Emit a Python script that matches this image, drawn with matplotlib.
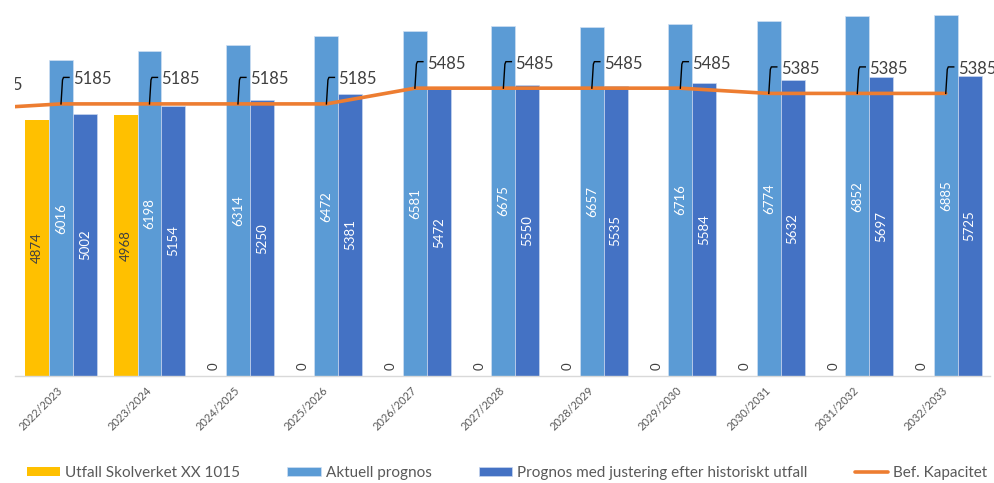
import matplotlib
matplotlib.use("Agg")
import matplotlib.pyplot as plt
import matplotlib.transforms as mtransforms
import numpy as np

plt.rcParams['font.family'] = ['Lato', 'DejaVu Sans']

# ---- data ----
categories = ["2022/2023", "2023/2024", "2024/2025", "2025/2026", "2026/2027",
              "2027/2028", "2028/2029", "2029/2030", "2030/2031", "2031/2032", "2032/2033"]
utfall = [4874, 4968, 0, 0, 0, 0, 0, 0, 0, 0, 0]
aktuell = [6016, 6198, 6314, 6472, 6581, 6675, 6657, 6716, 6774, 6852, 6885]
justerad = [5002, 5154, 5250, 5381, 5472, 5550, 5535, 5584, 5632, 5697, 5725]
kapacitet = [5185, 5185, 5185, 5185, 5485, 5485, 5485, 5485, 5385, 5385, 5385]
# previous year's capacity point (mostly cropped at the left edge of the chart)
kapacitet_prev = 5085

labels = ["Utfall Skolverket XX 1015", "Aktuell prognos",
          "Prognos med justering efter historiskt utfall", "Bef. Kapacitet"]

c_yellow = "#FFC000"
c_light = "#5B9BD5"
c_dark = "#4472C4"
c_orange = "#ED7D31"
c_text = "#404040"
c_gray = "#595959"

W, H = 995, 483
fig = plt.figure(figsize=(W / 100, H / 100), dpi=100)
ax = fig.add_axes([15 / W, (H - 376) / H, 975 / W, 376 / H])

x = np.arange(len(categories))
bw = 0.27
off = 0.27

b1 = ax.bar(x - off, utfall, bw, color=c_yellow, label=labels[0], zorder=2)
b2 = ax.bar(x, aktuell, bw, color=c_light, label=labels[1], zorder=2,
            edgecolor="#cfe0f3", linewidth=0.5)
b3 = ax.bar(x + off, justerad, bw, color=c_dark, label=labels[2], zorder=2,
            edgecolor="#c7d5ee", linewidth=0.5)

lx = np.concatenate([[-1], x])
ly = [kapacitet_prev] + kapacitet
ln, = ax.plot(lx, ly, color=c_orange, lw=2.6, label=labels[3], zorder=3,
              solid_capstyle='round')

ax.set_xlim(-0.52, 10.5)
ax.set_ylim(0, 7165)

# in-bar labels
for bars, vals, col in [(b1, utfall, c_text), (b2, aktuell, "white"), (b3, justerad, "white")]:
    for r, v in zip(bars, vals):
        cx = r.get_x() + r.get_width() / 2
        if v == 0:
            t = mtransforms.offset_copy(ax.transData, fig=fig, x=0, y=10, units='dots')
            ax.text(cx, 0, "0", rotation=90, ha='center', va='center',
                    color=c_text, fontsize=9.5, transform=t, zorder=4)
        else:
            ax.text(cx, v / 2, str(v), rotation=90, ha='center', va='center',
                    color=col, fontsize=9.5, zorder=4)

# capacity labels with leader lines
def cap_label(xv, yv, txt, clip=False):
    tr = fig.dpi_scale_trans + mtransforms.ScaledTranslation(xv, yv, ax.transData)
    pts = np.array([(0, 0), (1.5, 24), (2.5, 26.5), (8, 26.5)]) / 100.0
    ax.plot(pts[:, 0], pts[:, 1], color="black", lw=1.0, transform=tr,
            clip_on=clip, zorder=5)
    ax.text(12 / 100, 26 / 100, txt, transform=tr, ha='left', va='center_baseline',
            color=c_text, fontsize=12, clip_on=clip, zorder=5)

cap_label(-1, kapacitet_prev, str(kapacitet_prev), clip=True)
for xi, v in zip(x, kapacitet):
    cap_label(xi, v, str(v))

# axes styling
for s in ["top", "right", "left"]:
    ax.spines[s].set_visible(False)
ax.spines["bottom"].set_color("#D9D9D9")
ax.spines["bottom"].set_linewidth(1.0)
ax.set_yticks([])
ax.set_xticks(x)
ax.set_xticklabels(categories, rotation=45, ha='right', va='center',
                   rotation_mode='anchor', fontsize=8, color=c_gray)
ax.tick_params(axis='x', length=0, pad=9)

leg = fig.legend(handles=[b1, b2, b3, ln], labels=labels, loc='center',
                 bbox_to_anchor=(507 / W, 10 / H), ncol=4, frameon=False,
                 fontsize=11, handlelength=2.2, handleheight=0.55,
                 handletextpad=0.3, columnspacing=3.1, labelcolor=c_gray)

fig.savefig("out.png", dpi=100)
